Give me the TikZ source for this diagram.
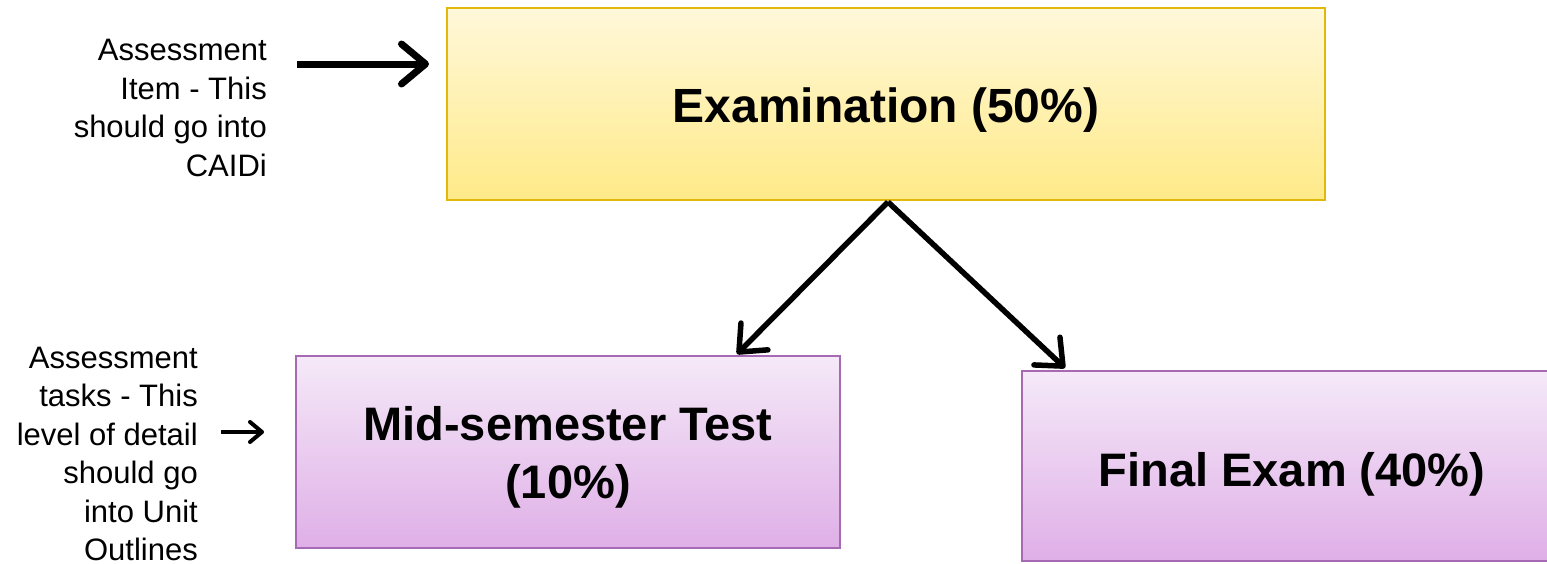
\documentclass[tikz,border=0pt]{standalone}
\usepackage{fontspec}
\setmainfont{Liberation Sans}
\usetikzlibrary{arrows.meta,calc}
\definecolor{ytop}{HTML}{FFF8DA}
\definecolor{ybot}{HTML}{FFEA88}
\definecolor{yline}{HTML}{E2B80A}
\definecolor{ptop}{HTML}{F5E9F8}
\definecolor{pbot}{HTML}{DFAFE7}
\definecolor{pline}{HTML}{A66AB4}
\tikzset{
  ybox/.style={draw=yline, line width=2pt, top color=ytop, bottom color=ybot, minimum width=878pt, minimum height=192pt, inner sep=0pt, font=\fontsize{48}{58}\selectfont\bfseries},
  pbox/.style={draw=pline, line width=2pt, top color=ptop, bottom color=pbot, inner sep=0pt, font=\fontsize{47}{58}\selectfont\bfseries},
  note/.style={font=\fontsize{31}{38.5}\selectfont, align=right, inner sep=0pt, anchor=east},
  conn/.style={line width=5.5pt, -{Straight Barb[length=22pt,width=38pt,line width=5.5pt,round]}},
}
\begin{document}
\begin{tikzpicture}[x=1pt,y=-1pt]
\useasboundingbox (0,0) rectangle (1547,563);
\fill[white] (0,0) rectangle (1547,563);
\node[ybox, text height=46pt, text depth=10pt] (exam) at (886,104) {Examination (50\%)};
\node[pbox, minimum width=544pt, minimum height=192pt] (mid) at (568,452) {\raisebox{0pt}[\dimexpr\height+12pt\relax]{\begin{tabular}{@{}c@{}}Mid-semester Test\\(10\%)\end{tabular}}};
\node[pbox, minimum width=540pt, minimum height=190pt, text height=51pt, text depth=10pt] (final) at (1292,466) {Final Exam (40\%)};
\node[note] (note1) at (267,108) {Assessment\\Item - This\\should go into\\CAIDi};
\node[note] (note2) at (198,454) {Assessment\\tasks - This\\level of detail\\should go\\into Unit\\Outlines};
\coordinate (a1s) at (297,64);
\coordinate (a2s) at (221,432);
\coordinate (top) at (888,202);
\draw[line width=7pt, -{Straight Barb[length=24pt,width=40pt,line width=7pt,round]}] (a1s) -- ($(a1s -| exam.west)+(-17,0)$);
\draw[line width=4pt, -{Straight Barb[length=12pt,width=20pt,line width=4pt,round]}] (a2s) -- ($(a2s -| mid.west)+(-31,0)$);
\draw[conn] (top) -- (737,354);
\draw[conn] (top) -- (1065,368);
\end{tikzpicture}
\end{document}
